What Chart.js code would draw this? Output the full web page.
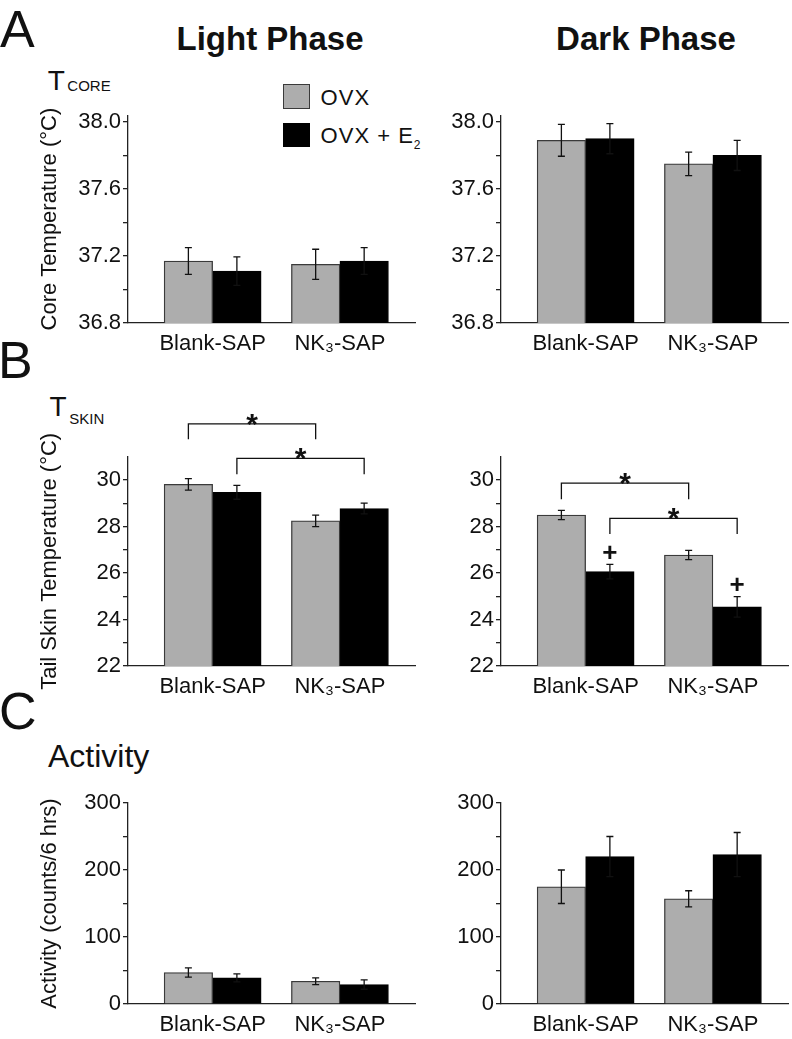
<!DOCTYPE html>
<html>
<head>
<meta charset="utf-8">
<script src="https://cdn.jsdelivr.net/npm/chart.js@4.4.0/dist/chart.umd.min.js"></script>
<style>
  body { margin: 0; background: #fff; width: 792px; height: 1039px; position: relative; overflow: hidden;
         font-family: "Liberation Sans", Arial, sans-serif; color: #111; }
  canvas, .t, .sw { position: absolute; }
  .t { line-height: 1; white-space: nowrap; }
  .c { transform: translateX(-50%); }
  .sw { box-sizing: border-box; }
</style>
</head>
<body>
<div class="t" style="left:0px; top:2.7px; font-size:52px;">A</div>
<div class="t" style="left:-2px; top:334.3px; font-size:52px;">B</div>
<div class="t" style="left:-1px; top:685px; font-size:52px;">C</div>

<div class="t c" style="left:270px; top:22.1px; font-size:33px; font-weight:bold;">Light Phase</div>
<div class="t c" style="left:646px; top:22.1px; font-size:33px; font-weight:bold;">Dark Phase</div>

<div class="t" style="left:47.7px; top:67.3px; font-size:28px;">T</div>
<div class="t" style="left:67.3px; top:78px; font-size:15px;">CORE</div>
<div class="t" style="left:49.5px; top:393.3px; font-size:28px;">T</div>
<div class="t" style="left:69.3px; top:410.6px; font-size:15px;">SKIN</div>
<div class="t" style="left:48px; top:739.9px; font-size:32px;">Activity</div>

<div class="sw" style="left:283.3px; top:84px; width:26.5px; height:25.3px; background:#adadad; border:1.3px solid #3a3a3a;"></div>
<div class="sw" style="left:283.3px; top:122.7px; width:26.5px; height:24.7px; background:#000;"></div>
<div class="t" style="left:320.6px; top:87.4px; font-size:22px; letter-spacing:1px;">OVX</div>
<div class="t" style="left:320.6px; top:125.4px; font-size:22px; letter-spacing:1px;">OVX + E<span style="font-size:12px; position:relative; top:6px;">2</span></div>

<canvas id="coreLight" width="420" height="260" style="left:0px; top:100px;"></canvas>
<canvas id="coreDark" width="392" height="260" style="left:400px; top:100px;"></canvas>
<canvas id="skinLight" width="420" height="305" style="left:0px; top:395px;"></canvas>
<canvas id="skinDark" width="392" height="305" style="left:400px; top:395px;"></canvas>
<canvas id="actLight" width="420" height="259" style="left:0px; top:780px;"></canvas>
<canvas id="actDark" width="392" height="259" style="left:400px; top:780px;"></canvas>

<script>
const groups = ["Blank-SAP", "NK\u2083-SAP"];
const seriesNames = ["OVX", "OVX + E\u2082"];

// A: core temperature (°C), mean and SEM
const coreLightOvx = [37.17, 37.15];
const coreLightOvxErr = [0.08, 0.09];
const coreLightE2 = [37.11, 37.17];
const coreLightE2Err = [0.085, 0.08];
const coreDarkOvx = [37.89, 37.75];
const coreDarkOvxErr = [0.095, 0.07];
const coreDarkE2 = [37.90, 37.80];
const coreDarkE2Err = [0.09, 0.09];

// B: tail skin temperature (°C)
const skinLightOvx = [29.81, 28.24];
const skinLightOvxErr = [0.25, 0.25];
const skinLightE2 = [29.47, 28.77];
const skinLightE2Err = [0.30, 0.23];
const skinDarkOvx = [28.49, 26.77];
const skinDarkOvxErr = [0.20, 0.20];
const skinDarkE2 = [26.06, 24.54];
const skinDarkE2Err = [0.31, 0.44];
const skinDarkE2Marks = ["+", "+"];

// C: activity (counts/6 hrs)
const actLightOvx = [47, 34];
const actLightOvxErr = [7, 5];
const actLightE2 = [39, 29];
const actLightE2Err = [6, 7];
const actDarkOvx = [175, 157];
const actDarkOvxErr = [25, 12];
const actDarkE2 = [220, 223];
const actDarkE2Err = [30, 33];

// axis ticks
const coreTicks = [36.8, 37.0, 37.2, 37.4, 37.6, 37.8, 38.0];
const coreTickLabels = ["36.8", "", "37.2", "", "37.6", "", "38.0"];
const skinTicks = [22, 23, 24, 25, 26, 27, 28, 29, 30];
const skinTickLabels = ["22", "", "24", "", "26", "", "28", "", "30"];
const actTicks = [0, 50, 100, 150, 200, 250, 300];
const actTickLabels = ["0", "", "100", "", "200", "", "300"];

// significance brackets: [dataset, group] -> [dataset, group], bracket level, leg end
const skinLightBrackets = [
  { from: [0, 0], to: [0, 1], top: 32.41, leg: 31.75, mark: "*" },
  { from: [1, 0], to: [1, 1], top: 30.93, leg: 30.24, mark: "*" }
];
const skinDarkBrackets = [
  { from: [0, 0], to: [0, 1], top: 29.86, leg: 29.17, mark: "*" },
  { from: [1, 0], to: [1, 1], top: 28.35, leg: 27.68, mark: "*" }
];

const FONT = "'Liberation Sans', Arial, sans-serif";
Chart.defaults.font.family = FONT;
Chart.defaults.color = "#111";

const annotPlugin = {
  id: "annot",
  afterDatasetsDraw(chart) {
    const ctx = chart.ctx;
    const y = chart.scales.y;
    const cfg = chart.options.plugins.annot || {};
    ctx.save();
    ctx.strokeStyle = "#111";
    ctx.fillStyle = "#111";
    ctx.lineWidth = 1.3;
    chart.data.datasets.forEach((ds, di) => {
      const meta = chart.getDatasetMeta(di);
      meta.data.forEach((bar, j) => {
        const v = ds.data[j].y;
        const e = ds.errors[j];
        const yt = y.getPixelForValue(v + e);
        const yb = y.getPixelForValue(v - e);
        ctx.beginPath();
        ctx.moveTo(bar.x, yt); ctx.lineTo(bar.x, yb);
        ctx.moveTo(bar.x - 3.5, yt); ctx.lineTo(bar.x + 3.5, yt);
        ctx.moveTo(bar.x - 3.5, yb); ctx.lineTo(bar.x + 3.5, yb);
        ctx.stroke();
        if (ds.marks && ds.marks[j]) {
          ctx.font = "bold 26px " + FONT;
          ctx.textAlign = "center";
          ctx.textBaseline = "middle";
          ctx.fillText(ds.marks[j], bar.x, yt - 11);
        }
      });
    });
    (cfg.brackets || []).forEach(b => {
      const x1 = chart.getDatasetMeta(b.from[0]).data[b.from[1]].x;
      const x2 = chart.getDatasetMeta(b.to[0]).data[b.to[1]].x;
      const yt = y.getPixelForValue(b.top);
      const yl = y.getPixelForValue(b.leg);
      ctx.beginPath();
      ctx.moveTo(x1, yl); ctx.lineTo(x1, yt); ctx.lineTo(x2, yt); ctx.lineTo(x2, yl);
      ctx.stroke();
      ctx.font = "bold 30px " + FONT;
      ctx.textAlign = "center";
      ctx.textBaseline = "alphabetic";
      ctx.fillText(b.mark, (x1 + x2) / 2, yt + 10);
    });
    ctx.restore();
  }
};

function barChart(id, p) {
  return new Chart(document.getElementById(id), {
    type: "bar",
    data: {
      datasets: [
        {
          label: seriesNames[0],
          data: groups.map((g, i) => ({ x: i, y: p.ovx[i] })),
          errors: p.ovxErr,
          backgroundColor: "#adadad",
          borderColor: "#3a3a3a",
          borderWidth: 1.3
        },
        {
          label: seriesNames[1],
          data: groups.map((g, i) => ({ x: i, y: p.e2[i] })),
          errors: p.e2Err,
          marks: p.e2Marks,
          backgroundColor: "#000",
          borderColor: "#000",
          borderWidth: 1
        }
      ]
    },
    options: {
      responsive: false,
      animation: false,
      datasets: { bar: { barThickness: 48.5 } },
      layout: { padding: { top: p.padTop, right: p.padRight, left: 0, bottom: 0 } },
      plugins: {
        legend: { display: false },
        tooltip: { enabled: false },
        annot: { brackets: p.brackets }
      },
      scales: {
        x: {
          type: "linear",
          offset: false,
          min: -0.665,
          max: 1.59,
          grid: { display: false, drawTicks: false, offset: false },
          border: { color: "#222", width: 1.3 },
          ticks: {
            autoSkip: false,
            color: "#111",
            font: { size: 22 },
            padding: 7.5,
            callback: (v, i) => groups[i]
          },
          afterBuildTicks: s => { s.ticks = groups.map((g, i) => ({ value: i })); },
          afterFit: s => { s.height = p.xHeight; }
        },
        y: {
          min: p.min,
          max: p.max,
          grid: { display: true, drawOnChartArea: false, drawTicks: true, tickLength: 5, color: "#222", lineWidth: 1.3 },
          border: { color: "#222", width: 1.3 },
          ticks: {
            autoSkip: false,
            color: "#111",
            font: { size: 22 },
            padding: 2,
            callback: (v, i) => p.tickLabels[i]
          },
          title: {
            display: !!p.title,
            text: p.title || "",
            color: "#111",
            font: { size: 22 },
            padding: { top: 37.2, bottom: 0 }
          },
          afterBuildTicks: s => { s.ticks = p.ticks.map(v => ({ value: v })); },
          afterFit: s => { s.width = p.yWidth; }
        }
      }
    },
    plugins: [annotPlugin]
  });
}

const leftCol = { yWidth: 128, padRight: 5 };
const rightCol = { yWidth: 101, padRight: 4 };
const rowA = { min: 36.8, max: 38.04, ticks: coreTicks, tickLabels: coreTickLabels, padTop: 15, xHeight: 37 };
const rowB = { min: 22, max: 31, ticks: skinTicks, tickLabels: skinTickLabels, padTop: 61.7, xHeight: 34 };
const rowC = { min: 0, max: 300, ticks: actTicks, tickLabels: actTickLabels, padTop: 23, xHeight: 35 };

barChart("coreLight", Object.assign({}, leftCol, rowA, {
  ovx: coreLightOvx, ovxErr: coreLightOvxErr, e2: coreLightE2, e2Err: coreLightE2Err,
  title: "Core Temperature (\u00B0C)"
}));
barChart("coreDark", Object.assign({}, rightCol, rowA, {
  ovx: coreDarkOvx, ovxErr: coreDarkOvxErr, e2: coreDarkE2, e2Err: coreDarkE2Err
}));
barChart("skinLight", Object.assign({}, leftCol, rowB, {
  ovx: skinLightOvx, ovxErr: skinLightOvxErr, e2: skinLightE2, e2Err: skinLightE2Err,
  brackets: skinLightBrackets, title: "Tail Skin Temperature (\u00B0C)"
}));
barChart("skinDark", Object.assign({}, rightCol, rowB, {
  ovx: skinDarkOvx, ovxErr: skinDarkOvxErr, e2: skinDarkE2, e2Err: skinDarkE2Err,
  e2Marks: skinDarkE2Marks, brackets: skinDarkBrackets
}));
barChart("actLight", Object.assign({}, leftCol, rowC, {
  ovx: actLightOvx, ovxErr: actLightOvxErr, e2: actLightE2, e2Err: actLightE2Err,
  title: "Activity (counts/6 hrs)"
}));
barChart("actDark", Object.assign({}, rightCol, rowC, {
  ovx: actDarkOvx, ovxErr: actDarkOvxErr, e2: actDarkE2, e2Err: actDarkE2Err
}));
</script>
</body>
</html>
